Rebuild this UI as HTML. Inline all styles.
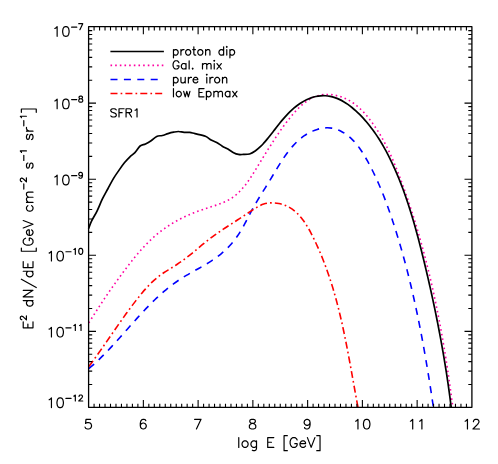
<!DOCTYPE html>
<html><head><meta charset="utf-8"><title>plot</title>
<style>html,body{margin:0;padding:0;background:#fff;font-family:"Liberation Sans",sans-serif}svg{display:block}</style>
</head><body>
<svg width="498" height="464" viewBox="0 0 498 464">
<rect width="498" height="464" fill="#fff"/>
<g fill="none" stroke-linejoin="round">
<path d="M88.85 322.8C89.3 322.08 90.65 319.92 91.55 318.49C92.45 317.07 93.35 315.65 94.25 314.23C95.16 312.82 96.06 311.41 96.97 310.01C97.87 308.61 98.78 307.22 99.69 305.83C100.6 304.44 101.51 303.06 102.43 301.68C103.35 300.3 104.27 298.93 105.19 297.56C106.12 296.2 107.04 294.83 107.97 293.47C108.91 292.11 109.84 290.76 110.79 289.4C111.73 288.05 112.67 286.7 113.63 285.35C114.58 284.01 115.54 282.66 116.5 281.32C117.47 279.98 118.44 278.64 119.42 277.3C120.4 275.96 121.39 274.62 122.38 273.28C123.38 271.94 124.38 270.61 125.39 269.27C126.4 267.93 127.42 266.59 128.45 265.26C129.47 263.93 130.51 262.6 131.56 261.28C132.61 259.95 133.67 258.64 134.74 257.33C135.82 256.02 136.9 254.72 138 253.44C139.09 252.16 140.2 250.88 141.33 249.62C142.45 248.37 143.59 247.13 144.74 245.9C145.9 244.68 147.07 243.47 148.25 242.29C149.44 241.11 150.64 239.95 151.86 238.81C153.08 237.67 154.32 236.56 155.57 235.48C156.83 234.39 158.1 233.33 159.4 232.31C160.69 231.28 162.01 230.28 163.34 229.31C164.67 228.35 166.02 227.41 167.39 226.5C168.76 225.58 170.15 224.7 171.55 223.84C172.96 222.99 174.38 222.16 175.82 221.35C177.25 220.55 178.71 219.77 180.17 219.01C181.64 218.26 183.12 217.53 184.62 216.82C186.12 216.11 187.63 215.43 189.15 214.77C190.68 214.1 192.21 213.46 193.76 212.84C195.31 212.22 196.87 211.63 198.45 211.05C200.02 210.47 201.61 209.91 203.2 209.37C204.79 208.83 206.41 208.31 208.01 207.8C209.62 207.28 211.24 206.79 212.84 206.27C214.44 205.75 216.04 205.23 217.61 204.68C219.19 204.12 220.75 203.56 222.27 202.93C223.8 202.31 225.3 201.66 226.75 200.93C228.2 200.21 229.62 199.44 230.98 198.58C232.35 197.73 233.65 196.8 234.92 195.8C236.18 194.8 237.39 193.73 238.56 192.61C239.74 191.49 240.86 190.3 241.96 189.08C243.05 187.85 244.11 186.57 245.14 185.25C246.17 183.94 247.16 182.59 248.14 181.21C249.11 179.84 250.06 178.42 250.99 177.01C251.93 175.59 252.84 174.14 253.74 172.7C254.65 171.25 255.53 169.8 256.42 168.35C257.31 166.9 258.18 165.46 259.06 164.02C259.94 162.58 260.81 161.15 261.68 159.73C262.56 158.31 263.43 156.89 264.3 155.48C265.17 154.07 266.05 152.66 266.92 151.26C267.8 149.86 268.67 148.46 269.55 147.07C270.43 145.68 271.32 144.29 272.21 142.91C273.1 141.53 273.99 140.15 274.89 138.77C275.8 137.4 276.7 136.02 277.63 134.66C278.55 133.29 279.49 131.93 280.44 130.57C281.39 129.21 282.35 127.86 283.33 126.51C284.32 125.16 285.32 123.81 286.34 122.47C287.36 121.13 288.41 119.8 289.48 118.47C290.55 117.14 291.64 115.81 292.76 114.5C293.88 113.19 295.03 111.88 296.2 110.62C297.38 109.37 298.58 108.12 299.82 106.94C301.05 105.77 302.32 104.62 303.61 103.56C304.91 102.5 306.23 101.49 307.59 100.58C308.95 99.67 310.34 98.82 311.76 98.09C313.19 97.37 314.65 96.73 316.14 96.21C317.63 95.7 319.17 95.3 320.72 95.01C322.27 94.72 323.85 94.54 325.43 94.47C327.02 94.39 328.63 94.42 330.23 94.54C331.83 94.67 333.45 94.9 335.04 95.21C336.64 95.52 338.24 95.93 339.81 96.43C341.38 96.92 342.94 97.5 344.46 98.16C345.98 98.82 347.49 99.56 348.94 100.37C350.4 101.18 351.81 102.08 353.19 103.03C354.56 103.98 355.88 105.01 357.17 106.08C358.46 107.15 359.71 108.29 360.92 109.46C362.14 110.63 363.31 111.86 364.45 113.11C365.6 114.36 366.7 115.66 367.78 116.97C368.86 118.28 369.91 119.63 370.93 120.98C371.94 122.33 372.93 123.7 373.9 125.07C374.87 126.45 375.81 127.85 376.72 129.25C377.64 130.65 378.53 132.07 379.39 133.49C380.26 134.92 381.11 136.36 381.93 137.81C382.76 139.25 383.56 140.71 384.35 142.18C385.13 143.64 385.9 145.12 386.64 146.61C387.39 148.09 388.12 149.58 388.84 151.08C389.55 152.58 390.25 154.09 390.94 155.6C391.62 157.12 392.29 158.64 392.95 160.17C393.61 161.69 394.25 163.23 394.89 164.76C395.52 166.3 396.14 167.84 396.76 169.39C397.38 170.93 397.98 172.48 398.58 174.04C399.18 175.59 399.77 177.14 400.36 178.7C400.94 180.26 401.52 181.82 402.1 183.38C402.67 184.95 403.24 186.51 403.8 188.08C404.37 189.64 404.92 191.21 405.48 192.78C406.03 194.35 406.58 195.93 407.12 197.5C407.66 199.07 408.2 200.65 408.73 202.23C409.26 203.81 409.79 205.39 410.31 206.97C410.83 208.55 411.34 210.13 411.85 211.72C412.37 213.31 412.87 214.89 413.37 216.48C413.87 218.07 414.37 219.66 414.86 221.25C415.35 222.85 415.83 224.44 416.31 226.04C416.79 227.63 417.27 229.23 417.74 230.83C418.21 232.43 418.68 234.03 419.14 235.63C419.6 237.23 420.06 238.84 420.51 240.44C420.96 242.05 421.4 243.65 421.85 245.26C422.29 246.87 422.73 248.48 423.16 250.09C423.59 251.7 424.02 253.31 424.44 254.93C424.87 256.54 425.29 258.16 425.7 259.77C426.12 261.39 426.53 263.01 426.93 264.62C427.34 266.24 427.74 267.86 428.14 269.48C428.54 271.11 428.93 272.73 429.32 274.35C429.71 275.97 430.09 277.6 430.47 279.22C430.85 280.85 431.23 282.48 431.6 284.1C431.97 285.73 432.34 287.36 432.7 288.99C433.07 290.62 433.43 292.25 433.78 293.88C434.14 295.51 434.49 297.15 434.84 298.78C435.18 300.41 435.53 302.05 435.87 303.68C436.21 305.32 436.54 306.95 436.88 308.59C437.21 310.23 437.54 311.86 437.86 313.5C438.19 315.14 438.51 316.78 438.83 318.42C439.14 320.06 439.46 321.7 439.77 323.34C440.08 324.98 440.38 326.62 440.69 328.26C440.99 329.91 441.29 331.55 441.59 333.19C441.88 334.83 442.17 336.48 442.46 338.12C442.75 339.77 443.04 341.41 443.32 343.05C443.6 344.7 443.88 346.34 444.16 347.99C444.44 349.64 444.71 351.28 444.98 352.93C445.25 354.57 445.51 356.22 445.78 357.87C446.04 359.51 446.3 361.16 446.56 362.81C446.81 364.46 447.07 366.1 447.32 367.75C447.57 369.4 447.82 371.05 448.06 372.7C448.31 374.34 448.55 375.99 448.79 377.64C449.03 379.29 449.26 380.94 449.5 382.58C449.73 384.23 449.96 385.88 450.19 387.53C450.42 389.18 450.64 390.82 450.87 392.47C451.09 394.12 451.31 395.77 451.53 397.42C451.74 399.06 451.96 400.71 452.17 402.36C452.38 404.01 452.7 406.48 452.8 407.3" stroke="#ff00a2" stroke-width="1.6" stroke-dasharray="1.6 3.06"/>
<path d="M88.85 368.7C89.48 368.16 91.37 366.54 92.61 365.44C93.85 364.34 95.08 363.22 96.3 362.08C97.52 360.95 98.72 359.8 99.92 358.64C101.11 357.48 102.3 356.31 103.47 355.12C104.65 353.94 105.82 352.74 106.98 351.54C108.14 350.33 109.29 349.12 110.43 347.9C111.58 346.68 112.72 345.44 113.85 344.21C114.99 342.97 116.12 341.73 117.24 340.48C118.37 339.23 119.49 337.98 120.61 336.73C121.73 335.47 122.85 334.21 123.97 332.95C125.09 331.69 126.2 330.43 127.32 329.17C128.43 327.91 129.55 326.65 130.67 325.39C131.79 324.13 132.9 322.88 134.03 321.62C135.15 320.37 136.27 319.12 137.4 317.87C138.53 316.63 139.66 315.39 140.8 314.15C141.94 312.92 143.09 311.69 144.24 310.47C145.39 309.26 146.55 308.04 147.71 306.84C148.88 305.64 150.05 304.45 151.23 303.27C152.42 302.1 153.61 300.93 154.81 299.77C156.02 298.62 157.23 297.48 158.46 296.35C159.68 295.22 160.92 294.11 162.17 293.01C163.42 291.92 164.68 290.84 165.96 289.78C167.24 288.72 168.53 287.67 169.84 286.65C171.15 285.62 172.48 284.62 173.82 283.64C175.16 282.65 176.52 281.69 177.9 280.75C179.28 279.81 180.67 278.89 182.09 278C183.5 277.11 184.94 276.24 186.39 275.39C187.83 274.53 189.3 273.7 190.76 272.87C192.23 272.04 193.71 271.23 195.18 270.41C196.66 269.59 198.14 268.77 199.61 267.95C201.08 267.12 202.55 266.3 204 265.46C205.45 264.61 206.9 263.76 208.33 262.88C209.75 262 211.17 261.11 212.55 260.18C213.94 259.25 215.3 258.29 216.64 257.31C217.98 256.32 219.29 255.3 220.57 254.26C221.86 253.21 223.11 252.13 224.34 251.02C225.56 249.91 226.76 248.76 227.92 247.59C229.08 246.41 230.21 245.2 231.31 243.95C232.4 242.71 233.46 241.43 234.48 240.12C235.51 238.8 236.49 237.45 237.44 236.07C238.39 234.69 239.3 233.27 240.19 231.83C241.07 230.39 241.93 228.92 242.77 227.45C243.6 225.97 244.42 224.47 245.22 222.97C246.03 221.47 246.82 219.95 247.6 218.44C248.39 216.94 249.17 215.42 249.95 213.93C250.74 212.43 251.52 210.93 252.32 209.46C253.12 207.99 253.92 206.54 254.74 205.11C255.56 203.67 256.39 202.25 257.23 200.84C258.07 199.44 258.92 198.04 259.77 196.65C260.62 195.26 261.48 193.87 262.35 192.48C263.21 191.1 264.08 189.71 264.95 188.32C265.82 186.92 266.7 185.52 267.57 184.11C268.44 182.7 269.32 181.27 270.19 179.83C271.06 178.39 271.93 176.93 272.8 175.47C273.67 174.01 274.55 172.53 275.43 171.06C276.32 169.59 277.2 168.11 278.11 166.64C279.01 165.18 279.92 163.71 280.85 162.26C281.78 160.81 282.72 159.37 283.68 157.95C284.64 156.53 285.62 155.13 286.63 153.75C287.64 152.38 288.66 151.03 289.72 149.72C290.78 148.41 291.86 147.12 292.97 145.88C294.09 144.64 295.23 143.44 296.42 142.28C297.6 141.13 298.82 140.02 300.08 138.97C301.33 137.92 302.63 136.91 303.97 135.97C305.31 135.04 306.7 134.15 308.13 133.35C309.56 132.54 311.05 131.78 312.57 131.13C314.09 130.47 315.66 129.88 317.24 129.4C318.81 128.92 320.43 128.52 322.04 128.25C323.65 127.98 325.29 127.81 326.91 127.79C328.52 127.76 330.15 127.86 331.74 128.11C333.33 128.35 334.91 128.76 336.45 129.27C337.99 129.79 339.51 130.45 340.97 131.19C342.43 131.93 343.86 132.8 345.23 133.72C346.59 134.64 347.9 135.65 349.16 136.71C350.42 137.78 351.63 138.92 352.79 140.1C353.96 141.29 355.07 142.54 356.15 143.83C357.23 145.12 358.26 146.46 359.26 147.83C360.26 149.2 361.22 150.62 362.16 152.06C363.1 153.49 364 154.96 364.87 156.44C365.75 157.92 366.6 159.42 367.44 160.93C368.27 162.43 369.08 163.94 369.88 165.46C370.67 166.97 371.45 168.49 372.21 170.01C372.97 171.53 373.72 173.05 374.45 174.57C375.18 176.1 375.89 177.62 376.59 179.16C377.29 180.69 377.97 182.22 378.65 183.75C379.32 185.29 379.98 186.83 380.62 188.37C381.27 189.91 381.9 191.46 382.52 193C383.15 194.55 383.76 196.1 384.36 197.65C384.96 199.2 385.55 200.76 386.13 202.32C386.71 203.87 387.28 205.43 387.85 207C388.41 208.56 388.96 210.12 389.51 211.69C390.06 213.26 390.6 214.83 391.13 216.4C391.67 217.98 392.2 219.55 392.72 221.13C393.24 222.71 393.76 224.29 394.27 225.88C394.78 227.46 395.29 229.05 395.79 230.63C396.29 232.22 396.78 233.81 397.27 235.41C397.76 237 398.25 238.6 398.73 240.19C399.21 241.79 399.68 243.39 400.15 244.99C400.62 246.6 401.08 248.2 401.54 249.81C402 251.41 402.45 253.02 402.9 254.63C403.35 256.24 403.79 257.85 404.23 259.47C404.67 261.08 405.1 262.7 405.53 264.31C405.96 265.93 406.39 267.55 406.81 269.17C407.23 270.79 407.64 272.41 408.05 274.04C408.46 275.66 408.87 277.29 409.27 278.92C409.67 280.54 410.07 282.17 410.46 283.8C410.85 285.43 411.24 287.06 411.63 288.7C412.01 290.33 412.39 291.96 412.77 293.6C413.14 295.24 413.51 296.87 413.88 298.51C414.25 300.15 414.61 301.79 414.97 303.43C415.33 305.07 415.69 306.71 416.04 308.35C416.39 309.99 416.74 311.63 417.09 313.28C417.43 314.92 417.77 316.57 418.11 318.21C418.45 319.86 418.78 321.5 419.11 323.15C419.44 324.8 419.77 326.45 420.09 328.09C420.41 329.74 420.73 331.39 421.05 333.04C421.37 334.69 421.68 336.34 421.99 337.99C422.3 339.64 422.61 341.29 422.91 342.94C423.21 344.59 423.51 346.24 423.81 347.89C424.11 349.55 424.4 351.2 424.69 352.85C424.99 354.5 425.27 356.15 425.56 357.81C425.85 359.46 426.13 361.11 426.41 362.76C426.69 364.41 426.97 366.07 427.24 367.72C427.52 369.37 427.79 371.02 428.06 372.67C428.33 374.33 428.6 375.98 428.86 377.63C429.13 379.28 429.39 380.93 429.65 382.58C429.91 384.23 430.17 385.88 430.43 387.53C430.68 389.18 430.94 390.83 431.19 392.48C431.44 394.13 431.69 395.78 431.94 397.42C432.18 399.07 432.43 400.72 432.67 402.36C432.92 404.01 433.28 406.48 433.4 407.3" stroke="#0000ff" stroke-width="1.6" stroke-dasharray="7 6.25"/>
<path d="M88.85 366.5C89.35 365.83 90.87 363.8 91.87 362.45C92.87 361.09 93.87 359.73 94.85 358.37C95.84 357.01 96.82 355.64 97.79 354.28C98.77 352.91 99.74 351.54 100.71 350.16C101.67 348.79 102.63 347.41 103.59 346.04C104.55 344.66 105.51 343.28 106.46 341.9C107.42 340.52 108.37 339.14 109.32 337.76C110.28 336.38 111.23 335 112.18 333.62C113.13 332.23 114.09 330.85 115.04 329.47C116 328.1 116.95 326.72 117.91 325.34C118.87 323.96 119.83 322.59 120.8 321.21C121.76 319.84 122.73 318.47 123.71 317.1C124.68 315.74 125.66 314.37 126.65 313.01C127.64 311.65 128.63 310.29 129.63 308.94C130.63 307.58 131.63 306.23 132.65 304.89C133.66 303.55 134.68 302.2 135.72 300.87C136.75 299.54 137.79 298.21 138.85 296.89C139.9 295.57 140.97 294.25 142.05 292.96C143.14 291.67 144.23 290.38 145.35 289.13C146.47 287.87 147.61 286.63 148.77 285.42C149.94 284.21 151.12 283.02 152.34 281.88C153.55 280.73 154.79 279.6 156.06 278.53C157.34 277.45 158.64 276.41 159.98 275.41C161.32 274.41 162.7 273.46 164.09 272.53C165.48 271.6 166.91 270.72 168.33 269.83C169.76 268.93 171.2 268.07 172.63 267.18C174.06 266.29 175.5 265.42 176.91 264.5C178.32 263.58 179.72 262.64 181.09 261.67C182.47 260.71 183.82 259.71 185.16 258.7C186.5 257.68 187.83 256.65 189.15 255.6C190.46 254.55 191.77 253.49 193.07 252.42C194.37 251.35 195.66 250.27 196.96 249.2C198.25 248.12 199.54 247.04 200.84 245.96C202.14 244.89 203.43 243.82 204.74 242.76C206.04 241.7 207.35 240.65 208.67 239.62C210 238.59 211.33 237.58 212.68 236.58C214.03 235.58 215.39 234.61 216.76 233.65C218.12 232.68 219.5 231.73 220.89 230.79C222.28 229.85 223.67 228.93 225.07 228.01C226.47 227.08 227.88 226.17 229.29 225.26C230.69 224.34 232.11 223.44 233.52 222.52C234.93 221.61 236.35 220.71 237.77 219.79C239.18 218.87 240.59 217.96 242 217.03C243.41 216.1 244.82 215.16 246.23 214.23C247.64 213.29 249.05 212.35 250.46 211.41C251.88 210.48 253.29 209.51 254.73 208.62C256.16 207.72 257.6 206.8 259.1 206.04C260.6 205.29 262.13 204.59 263.72 204.1C265.31 203.6 266.98 203.25 268.65 203.05C270.32 202.84 272.04 202.79 273.73 202.86C275.42 202.93 277.14 203.14 278.79 203.46C280.44 203.78 282.09 204.22 283.64 204.76C285.2 205.3 286.71 205.96 288.14 206.7C289.58 207.44 290.94 208.29 292.25 209.21C293.56 210.12 294.8 211.14 296 212.21C297.19 213.28 298.33 214.44 299.42 215.65C300.52 216.85 301.56 218.13 302.56 219.45C303.57 220.77 304.53 222.15 305.46 223.55C306.38 224.96 307.27 226.42 308.13 227.89C309 229.37 309.83 230.88 310.64 232.4C311.44 233.92 312.23 235.47 312.99 237.02C313.76 238.56 314.51 240.12 315.24 241.67C315.98 243.23 316.7 244.78 317.4 246.34C318.1 247.9 318.79 249.47 319.47 251.03C320.14 252.6 320.8 254.17 321.45 255.74C322.09 257.31 322.72 258.89 323.34 260.46C323.96 262.04 324.57 263.62 325.16 265.2C325.75 266.78 326.33 268.37 326.9 269.95C327.47 271.54 328.02 273.13 328.57 274.72C329.11 276.31 329.64 277.9 330.16 279.5C330.68 281.1 331.19 282.69 331.69 284.3C332.19 285.9 332.68 287.5 333.16 289.1C333.64 290.71 334.11 292.32 334.57 293.92C335.03 295.53 335.48 297.14 335.92 298.76C336.36 300.37 336.79 301.99 337.22 303.6C337.64 305.22 338.05 306.84 338.46 308.46C338.87 310.08 339.27 311.7 339.66 313.33C340.06 314.95 340.44 316.58 340.82 318.2C341.2 319.83 341.57 321.46 341.94 323.09C342.3 324.72 342.66 326.36 343.02 327.99C343.37 329.62 343.72 331.26 344.06 332.9C344.41 334.53 344.74 336.17 345.08 337.81C345.41 339.45 345.74 341.09 346.07 342.74C346.39 344.38 346.72 346.02 347.03 347.67C347.35 349.31 347.67 350.96 347.98 352.61C348.29 354.25 348.6 355.9 348.91 357.55C349.22 359.2 349.52 360.85 349.83 362.51C350.13 364.16 350.43 365.81 350.73 367.46C351.03 369.12 351.33 370.77 351.63 372.43C351.93 374.08 352.23 375.74 352.52 377.4C352.82 379.06 353.12 380.71 353.42 382.37C353.72 384.03 354.01 385.69 354.32 387.35C354.62 389.01 354.92 390.67 355.22 392.33C355.52 394 355.83 395.66 356.13 397.32C356.44 398.98 356.75 400.65 357.06 402.31C357.37 403.97 357.84 406.47 358 407.3" stroke="#ff0000" stroke-width="1.6" stroke-dasharray="7 3.1 1.7 3.1"/>
<path d="M88.6 228.6C89.07 227.39 90.02 224.25 91.4 221.37C92.78 218.48 95.07 215.03 96.9 211.3C98.73 207.57 100.57 202.73 102.4 198.97C104.23 195.21 106.07 192.12 107.9 188.73C109.73 185.34 111.57 181.69 113.4 178.63C115.23 175.57 117.07 173 118.9 170.37C120.73 167.73 122.57 165.09 124.4 162.83C126.23 160.58 128.15 158.54 129.9 156.83C131.65 155.13 133.2 154.41 134.9 152.6C136.6 150.79 138.33 147.45 140.1 146C141.87 144.55 143.67 144.78 145.5 143.9C147.33 143.02 149.23 141.95 151.1 140.7C152.97 139.45 154.83 137.27 156.7 136.4C158.57 135.53 160.42 135.97 162.3 135.5C164.18 135.03 166.12 134.15 168 133.6C169.88 133.05 171.85 132.55 173.6 132.2C175.35 131.85 176.75 131.47 178.5 131.5C180.25 131.53 182.23 132.25 184.1 132.4C185.97 132.55 187.88 132.18 189.7 132.4C191.52 132.62 192.38 133.06 195 133.7C197.62 134.34 202.72 135.17 205.4 136.22C208.08 137.27 209.22 138.97 211.1 140.01C212.98 141.05 214.83 141.4 216.7 142.44C218.57 143.48 220.43 145.12 222.3 146.23C224.17 147.34 226.02 148 227.9 149.08C229.78 150.16 231.85 151.8 233.6 152.69C235.35 153.58 236.8 154.11 238.4 154.41C240 154.71 241.33 154.54 243.2 154.47C245.07 154.4 247.6 154.58 249.6 154.01C251.6 153.44 253.32 152.33 255.2 151.03C257.08 149.73 259.4 147.63 260.9 146.23C262.4 144.83 263.12 143.88 264.2 142.66C265.28 141.44 266.34 140.18 267.39 138.9C268.44 137.63 269.48 136.33 270.51 135.02C271.55 133.71 272.57 132.38 273.6 131.05C274.64 129.72 275.66 128.38 276.71 127.05C277.75 125.72 278.8 124.38 279.86 123.06C280.93 121.74 282.01 120.43 283.12 119.14C284.22 117.84 285.34 116.56 286.5 115.32C287.66 114.07 288.84 112.85 290.06 111.66C291.28 110.48 292.54 109.32 293.83 108.21C295.13 107.11 296.48 106.03 297.85 105.03C299.23 104.02 300.65 103.06 302.09 102.18C303.54 101.3 305.02 100.48 306.52 99.75C308.03 99.03 309.56 98.38 311.11 97.83C312.67 97.29 314.25 96.84 315.84 96.5C317.42 96.16 319.04 95.93 320.64 95.8C322.24 95.68 323.85 95.66 325.44 95.75C327.03 95.84 328.62 96.04 330.18 96.35C331.74 96.66 333.28 97.08 334.8 97.58C336.32 98.09 337.82 98.7 339.29 99.38C340.77 100.06 342.23 100.84 343.66 101.67C345.09 102.51 346.49 103.43 347.88 104.39C349.26 105.36 350.62 106.4 351.95 107.47C353.28 108.55 354.59 109.68 355.86 110.84C357.14 112 358.39 113.21 359.61 114.44C360.83 115.66 362.02 116.92 363.18 118.19C364.34 119.46 365.47 120.74 366.58 122.04C367.68 123.34 368.75 124.65 369.8 125.98C370.85 127.31 371.87 128.66 372.86 130.01C373.86 131.37 374.83 132.74 375.78 134.12C376.72 135.5 377.65 136.89 378.55 138.3C379.45 139.7 380.33 141.12 381.19 142.54C382.05 143.97 382.89 145.41 383.71 146.85C384.53 148.3 385.33 149.75 386.12 151.21C386.91 152.68 387.67 154.15 388.43 155.63C389.18 157.11 389.92 158.59 390.64 160.08C391.37 161.58 392.08 163.08 392.78 164.58C393.48 166.08 394.16 167.59 394.84 169.11C395.51 170.63 396.17 172.15 396.82 173.67C397.47 175.2 398.11 176.73 398.74 178.27C399.37 179.81 399.98 181.35 400.59 182.89C401.19 184.44 401.79 185.99 402.37 187.55C402.96 189.1 403.53 190.66 404.1 192.23C404.66 193.79 405.22 195.36 405.77 196.93C406.31 198.5 406.85 200.08 407.38 201.66C407.91 203.24 408.43 204.82 408.94 206.41C409.45 207.99 409.96 209.58 410.45 211.18C410.95 212.77 411.44 214.36 411.92 215.96C412.4 217.56 412.88 219.16 413.35 220.77C413.82 222.37 414.28 223.98 414.73 225.58C415.19 227.19 415.64 228.8 416.09 230.41C416.53 232.03 416.97 233.64 417.4 235.26C417.84 236.87 418.27 238.49 418.69 240.11C419.12 241.73 419.53 243.35 419.95 244.97C420.37 246.59 420.78 248.21 421.19 249.83C421.6 251.46 422 253.08 422.4 254.7C422.81 256.33 423.21 257.95 423.6 259.58C424 261.2 424.39 262.83 424.79 264.45C425.18 266.08 425.57 267.7 425.95 269.33C426.34 270.96 426.72 272.58 427.1 274.21C427.48 275.84 427.86 277.46 428.24 279.09C428.61 280.72 428.98 282.35 429.35 283.98C429.72 285.6 430.09 287.23 430.45 288.86C430.82 290.49 431.18 292.12 431.54 293.75C431.9 295.38 432.25 297.01 432.6 298.64C432.96 300.28 433.31 301.91 433.65 303.54C434 305.17 434.34 306.81 434.68 308.44C435.02 310.07 435.36 311.71 435.7 313.34C436.03 314.97 436.36 316.61 436.69 318.25C437.02 319.88 437.35 321.52 437.67 323.15C437.99 324.79 438.31 326.43 438.62 328.07C438.94 329.71 439.25 331.34 439.56 332.98C439.87 334.62 440.18 336.26 440.48 337.9C440.79 339.54 441.09 341.19 441.38 342.83C441.68 344.47 441.97 346.11 442.26 347.76C442.55 349.4 442.84 351.05 443.12 352.69C443.41 354.34 443.69 355.98 443.96 357.63C444.24 359.28 444.51 360.92 444.78 362.57C445.05 364.22 445.32 365.87 445.58 367.52C445.84 369.17 446.1 370.82 446.36 372.47C446.61 374.13 446.87 375.78 447.11 377.43C447.36 379.09 447.61 380.74 447.85 382.4C448.09 384.05 448.33 385.71 448.56 387.36C448.8 389.02 449.03 390.68 449.26 392.34C449.48 394 449.71 395.66 449.93 397.32C450.15 398.98 450.36 400.64 450.57 402.31C450.79 403.97 451.1 406.47 451.2 407.3" stroke="#000" stroke-width="1.7"/>
<path d="M110.4 51.5H163.9" stroke="#000" stroke-width="1.6"/>
<path d="M110.5 65.4H163.9" stroke="#ff00a2" stroke-width="1.6" stroke-dasharray="1.6 3.06"/>
<path d="M110.5 79.5H163.9" stroke="#0000ff" stroke-width="1.6" stroke-dasharray="7 6.4"/>
<path d="M110.5 93.5H163.9" stroke="#ff0000" stroke-width="1.6" stroke-dasharray="7 3.1 1.7 3.1"/>
<path d="M94.08 407.35v-3.6M94.08 26.7v3.8M99.55 407.35v-3.6M99.55 26.7v3.8M105.03 407.35v-3.6M105.03 26.7v3.8M110.5 407.35v-3.6M110.5 26.7v3.8M115.98 407.35v-3.6M115.98 26.7v3.8M121.45 407.35v-3.6M121.45 26.7v3.8M126.93 407.35v-3.6M126.93 26.7v3.8M132.41 407.35v-3.6M132.41 26.7v3.8M137.88 407.35v-3.6M137.88 26.7v3.8M143.36 407.35v-7.4M143.36 26.7v7.6M148.83 407.35v-3.6M148.83 26.7v3.8M154.31 407.35v-3.6M154.31 26.7v3.8M159.78 407.35v-3.6M159.78 26.7v3.8M165.26 407.35v-3.6M165.26 26.7v3.8M170.74 407.35v-3.6M170.74 26.7v3.8M176.21 407.35v-3.6M176.21 26.7v3.8M181.69 407.35v-3.6M181.69 26.7v3.8M187.16 407.35v-3.6M187.16 26.7v3.8M192.64 407.35v-3.6M192.64 26.7v3.8M198.11 407.35v-7.4M198.11 26.7v7.6M203.59 407.35v-3.6M203.59 26.7v3.8M209.07 407.35v-3.6M209.07 26.7v3.8M214.54 407.35v-3.6M214.54 26.7v3.8M220.02 407.35v-3.6M220.02 26.7v3.8M225.49 407.35v-3.6M225.49 26.7v3.8M230.97 407.35v-3.6M230.97 26.7v3.8M236.44 407.35v-3.6M236.44 26.7v3.8M241.92 407.35v-3.6M241.92 26.7v3.8M247.4 407.35v-3.6M247.4 26.7v3.8M252.87 407.35v-7.4M252.87 26.7v7.6M258.35 407.35v-3.6M258.35 26.7v3.8M263.82 407.35v-3.6M263.82 26.7v3.8M269.3 407.35v-3.6M269.3 26.7v3.8M274.77 407.35v-3.6M274.77 26.7v3.8M280.25 407.35v-3.6M280.25 26.7v3.8M285.73 407.35v-3.6M285.73 26.7v3.8M291.2 407.35v-3.6M291.2 26.7v3.8M296.68 407.35v-3.6M296.68 26.7v3.8M302.15 407.35v-3.6M302.15 26.7v3.8M307.63 407.35v-7.4M307.63 26.7v7.6M313.1 407.35v-3.6M313.1 26.7v3.8M318.58 407.35v-3.6M318.58 26.7v3.8M324.06 407.35v-3.6M324.06 26.7v3.8M329.53 407.35v-3.6M329.53 26.7v3.8M335.01 407.35v-3.6M335.01 26.7v3.8M340.48 407.35v-3.6M340.48 26.7v3.8M345.96 407.35v-3.6M345.96 26.7v3.8M351.43 407.35v-3.6M351.43 26.7v3.8M356.91 407.35v-3.6M356.91 26.7v3.8M362.39 407.35v-7.4M362.39 26.7v7.6M367.86 407.35v-3.6M367.86 26.7v3.8M373.34 407.35v-3.6M373.34 26.7v3.8M378.81 407.35v-3.6M378.81 26.7v3.8M384.29 407.35v-3.6M384.29 26.7v3.8M389.76 407.35v-3.6M389.76 26.7v3.8M395.24 407.35v-3.6M395.24 26.7v3.8M400.72 407.35v-3.6M400.72 26.7v3.8M406.19 407.35v-3.6M406.19 26.7v3.8M411.67 407.35v-3.6M411.67 26.7v3.8M417.14 407.35v-7.4M417.14 26.7v7.6M422.62 407.35v-3.6M422.62 26.7v3.8M428.09 407.35v-3.6M428.09 26.7v3.8M433.57 407.35v-3.6M433.57 26.7v3.8M439.05 407.35v-3.6M439.05 26.7v3.8M444.52 407.35v-3.6M444.52 26.7v3.8M450 407.35v-3.6M450 26.7v3.8M455.47 407.35v-3.6M455.47 26.7v3.8M460.95 407.35v-3.6M460.95 26.7v3.8M466.42 407.35v-3.6M466.42 26.7v3.8M88.6 384.55h3.6M471.9 384.55h-3.6M88.6 371.16h3.6M471.9 371.16h-3.6M88.6 361.65h3.6M471.9 361.65h-3.6M88.6 354.28h3.6M471.9 354.28h-3.6M88.6 348.26h3.6M471.9 348.26h-3.6M88.6 343.16h3.6M471.9 343.16h-3.6M88.6 338.75h3.6M471.9 338.75h-3.6M88.6 334.86h3.6M471.9 334.86h-3.6M88.6 331.38h7.4M471.9 331.38h-7.4M88.6 308.48h3.6M471.9 308.48h-3.6M88.6 295.09h3.6M471.9 295.09h-3.6M88.6 285.58h3.6M471.9 285.58h-3.6M88.6 278.21h3.6M471.9 278.21h-3.6M88.6 272.19h3.6M471.9 272.19h-3.6M88.6 267.09h3.6M471.9 267.09h-3.6M88.6 262.68h3.6M471.9 262.68h-3.6M88.6 258.79h3.6M471.9 258.79h-3.6M88.6 255.31h7.4M471.9 255.31h-7.4M88.6 232.41h3.6M471.9 232.41h-3.6M88.6 219.02h3.6M471.9 219.02h-3.6M88.6 209.51h3.6M471.9 209.51h-3.6M88.6 202.14h3.6M471.9 202.14h-3.6M88.6 196.12h3.6M471.9 196.12h-3.6M88.6 191.02h3.6M471.9 191.02h-3.6M88.6 186.61h3.6M471.9 186.61h-3.6M88.6 182.72h3.6M471.9 182.72h-3.6M88.6 179.24h7.4M471.9 179.24h-7.4M88.6 156.34h3.6M471.9 156.34h-3.6M88.6 142.95h3.6M471.9 142.95h-3.6M88.6 133.44h3.6M471.9 133.44h-3.6M88.6 126.07h3.6M471.9 126.07h-3.6M88.6 120.05h3.6M471.9 120.05h-3.6M88.6 114.95h3.6M471.9 114.95h-3.6M88.6 110.54h3.6M471.9 110.54h-3.6M88.6 106.65h3.6M471.9 106.65h-3.6M88.6 103.17h7.4M471.9 103.17h-7.4M88.6 80.27h3.6M471.9 80.27h-3.6M88.6 66.88h3.6M471.9 66.88h-3.6M88.6 57.37h3.6M471.9 57.37h-3.6M88.6 50h3.6M471.9 50h-3.6M88.6 43.98h3.6M471.9 43.98h-3.6M88.6 38.88h3.6M471.9 38.88h-3.6M88.6 34.47h3.6M471.9 34.47h-3.6M88.6 30.58h3.6M471.9 30.58h-3.6" stroke="#000" stroke-width="1.1"/>
<rect x="88.6" y="26.7" width="383.3" height="380.65" stroke="#000" stroke-width="1.3"/>
<path d="M90.6 419.34L86 419.34L85.54 423.48L86 423.02L87.38 422.56L88.76 422.56L90.14 423.02L91.06 423.94L91.52 425.32L91.52 426.24L91.06 427.62L90.14 428.54L88.76 429L87.38 429L86 428.54L85.54 428.08L85.08 427.16M140.3 425.78L140.76 427.62L141.68 428.54L143.06 429L143.52 429L144.9 428.54L145.82 427.62L146.28 426.24L146.28 425.78L145.82 424.4L144.9 423.48L143.52 423.02L143.06 423.02L141.68 423.48L140.76 424.4L140.3 425.78L140.3 423.48L140.76 421.18L141.68 419.8L143.06 419.34L143.98 419.34L145.36 419.8L145.82 420.72M196.43 429L201.03 419.34L194.59 419.34M249.35 425.78L249.81 424.86L250.73 423.94L252.11 423.48L253.95 423.02L254.87 422.56L255.33 421.64L255.33 420.72L254.87 419.8L253.49 419.34L251.65 419.34L250.27 419.8L249.81 420.72L249.81 421.64L250.27 422.56L251.19 423.02L253.03 423.48L254.41 423.94L255.33 424.86L255.79 425.78L255.79 427.16L255.33 428.08L254.87 428.54L253.49 429L251.65 429L250.27 428.54L249.81 428.08L249.35 427.16L249.35 425.78M310.09 422.56L309.63 423.94L308.71 424.86L307.33 425.32L306.87 425.32L305.49 424.86L304.57 423.94L304.11 422.56L304.11 422.1L304.57 420.72L305.49 419.8L306.87 419.34L307.33 419.34L308.71 419.8L309.63 420.72L310.09 422.56L310.09 424.86L309.63 427.16L308.71 428.54L307.33 429L306.41 429L305.03 428.54L304.57 427.62M357.95 429L357.95 419.34L356.57 420.72L355.65 421.18M363.47 423.48L363.93 421.18L364.85 419.8L366.23 419.34L367.15 419.34L368.53 419.8L369.45 421.18L369.91 423.48L369.91 424.86L369.45 427.16L368.53 428.54L367.15 429L366.23 429L364.85 428.54L363.93 427.16L363.47 424.86L363.47 423.48M412.7 429L412.7 419.34L411.32 420.72L410.4 421.18M421.9 429L421.9 419.34L420.52 420.72L419.6 421.18M467.46 429L467.46 419.34L466.08 420.72L465.16 421.18M473.44 421.64L473.44 421.18L473.9 420.26L474.36 419.8L475.28 419.34L477.12 419.34L478.04 419.8L478.5 420.26L478.96 421.18L478.96 422.1L478.5 423.02L477.58 424.4L472.98 429L479.42 429M51.44 407.6L51.44 397.94L50.06 399.32L49.14 399.78M56.96 402.08L57.42 399.78L58.34 398.4L59.72 397.94L60.64 397.94L62.02 398.4L62.94 399.78L63.4 402.08L63.4 403.46L62.94 405.76L62.02 407.14L60.64 407.6L59.72 407.6L58.34 407.14L57.42 405.76L56.96 403.46L56.96 402.08M65.92 398.43L71.05 398.43M75.33 401L75.33 395.01L74.47 395.87L73.9 396.15M79.04 396.44L79.04 396.15L79.32 395.58L79.61 395.3L80.18 395.01L81.32 395.01L81.89 395.3L82.17 395.58L82.46 396.15L82.46 396.72L82.17 397.29L81.6 398.15L78.75 401L82.74 401M51.44 336.98L51.44 327.32L50.06 328.7L49.14 329.16M56.96 331.46L57.42 329.16L58.34 327.78L59.72 327.32L60.64 327.32L62.02 327.78L62.94 329.16L63.4 331.46L63.4 332.84L62.94 335.14L62.02 336.52L60.64 336.98L59.72 336.98L58.34 336.52L57.42 335.14L56.96 332.84L56.96 331.46M65.92 327.81L71.05 327.81M75.33 330.38L75.33 324.39L74.47 325.25L73.9 325.53M81.03 330.38L81.03 324.39L80.18 325.25L79.61 325.53M51.44 260.91L51.44 251.25L50.06 252.63L49.14 253.09M56.96 255.39L57.42 253.09L58.34 251.71L59.72 251.25L60.64 251.25L62.02 251.71L62.94 253.09L63.4 255.39L63.4 256.77L62.94 259.07L62.02 260.45L60.64 260.91L59.72 260.91L58.34 260.45L57.42 259.07L56.96 256.77L56.96 255.39M65.92 251.74L71.05 251.74M75.33 254.31L75.33 248.32L74.47 249.18L73.9 249.46M78.75 250.89L79.04 249.46L79.61 248.61L80.46 248.32L81.03 248.32L81.89 248.61L82.46 249.46L82.74 250.89L82.74 251.74L82.46 253.17L81.89 254.02L81.03 254.31L80.46 254.31L79.61 254.02L79.04 253.17L78.75 251.74L78.75 250.89M57.14 184.84L57.14 175.18L55.76 176.56L54.84 177.02M62.66 179.32L63.12 177.02L64.04 175.64L65.42 175.18L66.34 175.18L67.72 175.64L68.64 177.02L69.1 179.32L69.1 180.7L68.64 183L67.72 184.38L66.34 184.84L65.42 184.84L64.04 184.38L63.12 183L62.66 180.7L62.66 179.32M71.62 175.67L76.76 175.67M82.46 174.25L82.17 175.1L81.6 175.67L80.75 175.96L80.46 175.96L79.61 175.67L79.04 175.1L78.75 174.25L78.75 173.96L79.04 173.11L79.61 172.54L80.46 172.25L80.75 172.25L81.6 172.54L82.17 173.11L82.46 174.25L82.46 175.67L82.17 177.1L81.6 177.95L80.75 178.24L80.18 178.24L79.32 177.95L79.04 177.38M57.14 108.77L57.14 99.11L55.76 100.49L54.84 100.95M62.66 103.25L63.12 100.95L64.04 99.57L65.42 99.11L66.34 99.11L67.72 99.57L68.64 100.95L69.1 103.25L69.1 104.63L68.64 106.93L67.72 108.31L66.34 108.77L65.42 108.77L64.04 108.31L63.12 106.93L62.66 104.63L62.66 103.25M71.62 99.6L76.76 99.6M78.75 100.17L79.04 99.6L79.61 99.03L80.46 98.75L81.6 98.46L82.17 98.18L82.46 97.61L82.46 97.04L82.17 96.47L81.32 96.18L80.18 96.18L79.32 96.47L79.04 97.04L79.04 97.61L79.32 98.18L79.89 98.46L81.03 98.75L81.89 99.03L82.46 99.6L82.74 100.17L82.74 101.03L82.46 101.6L82.17 101.88L81.32 102.17L80.18 102.17L79.32 101.88L79.04 101.6L78.75 101.03L78.75 100.17M57.14 36.3L57.14 26.64L55.76 28.02L54.84 28.48M62.66 30.78L63.12 28.48L64.04 27.1L65.42 26.64L66.34 26.64L67.72 27.1L68.64 28.48L69.1 30.78L69.1 32.16L68.64 34.46L67.72 35.84L66.34 36.3L65.42 36.3L64.04 35.84L63.12 34.46L62.66 32.16L62.66 30.78M71.62 27.13L76.76 27.13M79.89 29.7L82.74 23.71L78.75 23.71M238.77 437.59L238.77 447.4M242.04 443.66L242.51 442.26L243.44 441.33L244.37 440.86L245.78 440.86L246.71 441.33L247.64 442.26L248.11 443.66L248.11 444.6L247.64 446L246.71 446.93L245.78 447.4L244.37 447.4L243.44 446.93L242.51 446L242.04 444.6L242.04 443.66M256.52 440.86L256.52 448.33L256.05 449.73L255.58 450.2L254.65 450.67L253.25 450.67L252.31 450.2M256.52 446L255.58 446.93L254.65 447.4L253.25 447.4L252.31 446.93L251.38 446L250.91 444.6L250.91 443.66L251.38 442.26L252.31 441.33L253.25 440.86L254.65 440.86L255.58 441.33L256.52 442.26M273.8 447.4L267.72 447.4L267.72 437.59L273.8 437.59M267.72 442.26L271.46 442.26M287.34 450.67L284.07 450.67L284.07 435.72L287.34 435.72M297.15 439.93L296.68 438.99L295.75 438.06L294.81 437.59L292.94 437.59L292.01 438.06L291.07 438.99L290.61 439.93L290.14 441.33L290.14 443.66L290.61 445.06L291.07 446L292.01 446.93L292.94 447.4L294.81 447.4L295.75 446.93L296.68 446L297.15 445.06L297.15 443.66L294.81 443.66M299.95 443.66L305.55 443.66L305.55 442.73L305.08 441.8L304.62 441.33L303.68 440.86L302.28 440.86L301.35 441.33L300.41 442.26L299.95 443.66L299.95 444.6L300.41 446L301.35 446.93L302.28 447.4L303.68 447.4L304.62 446.93L305.55 446M314.89 437.59L311.16 447.4L307.42 437.59M316.76 450.67L320.03 450.67L320.03 435.72L316.76 435.72M33 321.73L33 327.78L23.22 327.78L23.22 321.73M27.88 327.78L27.88 324.06M21.78 319.65L21.49 319.65L20.92 319.36L20.63 319.07L20.34 318.49L20.34 317.34L20.63 316.76L20.92 316.47L21.49 316.18L22.07 316.18L22.65 316.47L23.51 317.05L26.4 319.93L26.4 315.89M31.6 300.6L32.53 301.53L33 302.46L33 303.86L32.53 304.79L31.6 305.72L30.21 306.18L29.28 306.18L27.88 305.72L26.95 304.79L26.48 303.86L26.48 302.46L26.95 301.53L27.88 300.6M23.22 300.6L33 300.6M23.22 290.36L33 290.36L23.22 296.87L33 296.87M36.26 287.56L21.36 279.18M31.6 271.27L32.53 272.2L33 273.13L33 274.53L32.53 275.46L31.6 276.39L30.21 276.86L29.28 276.86L27.88 276.39L26.95 275.46L26.48 274.53L26.48 273.13L26.95 272.2L27.88 271.27M23.22 271.27L33 271.27M33 261.5L33 267.55L23.22 267.55L23.22 261.5M27.88 267.55L27.88 263.82M36.26 248L36.26 251.25L21.36 251.25L21.36 248M25.55 238.22L24.62 238.69L23.69 239.62L23.22 240.55L23.22 242.41L23.69 243.34L24.62 244.27L25.55 244.74L26.95 245.2L29.28 245.2L30.67 244.74L31.6 244.27L32.53 243.34L33 242.41L33 240.55L32.53 239.62L31.6 238.69L30.67 238.22L29.28 238.22L29.28 240.55M29.28 235.43L29.28 229.84L28.34 229.84L27.41 230.31L26.95 230.77L26.48 231.7L26.48 233.1L26.95 234.03L27.88 234.96L29.28 235.43L30.21 235.43L31.6 234.96L32.53 234.03L33 233.1L33 231.7L32.53 230.77L31.6 229.84M23.22 220.53L33 224.26L23.22 227.98M31.6 205.64L32.53 206.57L33 207.5L33 208.89L32.53 209.83L31.6 210.76L30.21 211.22L29.28 211.22L27.88 210.76L26.95 209.83L26.48 208.89L26.48 207.5L26.95 206.57L27.88 205.64M26.48 202.38L33 202.38M33 197.26L28.34 197.26L26.95 197.72L26.48 198.65L26.48 200.05L26.95 200.98L28.34 202.38M28.34 197.26L26.95 195.86L26.48 194.93L26.48 193.53L26.95 192.6L28.34 192.14L33 192.14M23.8 189.12L23.8 183.93M21.78 181.62L21.49 181.62L20.92 181.33L20.63 181.04L20.34 180.46L20.34 179.31L20.63 178.73L20.92 178.44L21.49 178.15L22.07 178.15L22.65 178.44L23.51 179.02L26.4 181.9L26.4 177.86M27.88 163.03L26.95 163.5L26.48 164.9L26.48 166.29L26.95 167.69L27.88 168.15L28.81 167.69L29.28 166.76L29.74 164.43L30.21 163.5L31.14 163.03L31.6 163.03L32.53 163.5L33 164.9L33 166.29L32.53 167.69L31.6 168.15M23.8 160.48L23.8 155.29M26.4 150.96L20.34 150.96L21.21 151.82L21.49 152.4M27.88 134.4L26.95 134.86L26.48 136.26L26.48 137.65L26.95 139.05L27.88 139.52L28.81 139.05L29.28 138.12L29.74 135.79L30.21 134.86L31.14 134.4L31.6 134.4L32.53 134.86L33 136.26L33 137.65L32.53 139.05L31.6 139.52M26.48 131.14L33 131.14M26.48 127.41L26.48 128.81L26.95 129.74L27.88 130.67L29.28 131.14M23.8 125.79L23.8 120.6M26.4 116.27L20.34 116.27L21.21 117.14L21.49 117.71M36.26 112.28L36.26 109.02L21.36 109.02L21.36 112.28" stroke="#000" stroke-width="1.2" stroke-linecap="round"/>
<path d="M173.47 49.61L173.47 57.84M173.47 53.92L174.25 54.71L175.04 55.1L176.21 55.1L177 54.71L177.78 53.92L178.17 52.75L178.17 51.96L177.78 50.79L177 50L176.21 49.61L175.04 49.61L174.25 50L173.47 50.79M180.92 49.61L180.92 55.1M184.05 49.61L182.88 49.61L182.09 50L181.31 50.79L180.92 51.96M185.62 51.96L186.01 50.79L186.8 50L187.58 49.61L188.76 49.61L189.54 50L190.32 50.79L190.72 51.96L190.72 52.75L190.32 53.92L189.54 54.71L188.76 55.1L187.58 55.1L186.8 54.71L186.01 53.92L185.62 52.75L185.62 51.96M192.68 49.61L195.42 49.61M195.81 55.1L195.03 55.1L194.24 54.71L193.85 53.53L193.85 46.87M197.77 51.96L198.16 50.79L198.95 50L199.73 49.61L200.91 49.61L201.69 50L202.48 50.79L202.87 51.96L202.87 52.75L202.48 53.92L201.69 54.71L200.91 55.1L199.73 55.1L198.95 54.71L198.16 53.92L197.77 52.75L197.77 51.96M205.61 49.61L205.61 55.1M209.92 55.1L209.92 51.18L209.53 50L208.75 49.61L207.57 49.61L206.79 50L205.61 51.18M223.64 53.92L222.86 54.71L222.08 55.1L220.9 55.1L220.12 54.71L219.33 53.92L218.94 52.75L218.94 51.96L219.33 50.79L220.12 50L220.9 49.61L222.08 49.61L222.86 50L223.64 50.79M223.64 46.87L223.64 55.1M226.78 49.61L226.78 55.1M226.39 46.87L226.78 47.26L227.17 46.87L226.78 46.48L226.39 46.87M229.92 49.61L229.92 57.84M229.92 53.92L230.7 54.71L231.48 55.1L232.66 55.1L233.44 54.71L234.23 53.92L234.62 52.75L234.62 51.96L234.23 50.79L233.44 50L232.66 49.61L231.48 49.61L230.7 50L229.92 50.79M178.96 62.73L178.56 61.94L177.78 61.16L177 60.77L175.43 60.77L174.64 61.16L173.86 61.94L173.47 62.73L173.08 63.9L173.08 65.86L173.47 67.04L173.86 67.82L174.64 68.61L175.43 69L177 69L177.78 68.61L178.56 67.82L178.96 67.04L178.96 65.86L177 65.86M186.01 67.82L185.23 68.61L184.44 69L183.27 69L182.48 68.61L181.7 67.82L181.31 66.65L181.31 65.86L181.7 64.69L182.48 63.9L183.27 63.51L184.44 63.51L185.23 63.9L186.01 64.69M186.01 63.51L186.01 69M189.15 60.77L189.15 69M192.28 68.61L192.68 69L193.07 68.61L192.68 68.22L192.28 68.61M202.48 63.51L202.48 69M206.79 69L206.79 65.08L206.4 63.9L205.61 63.51L204.44 63.51L203.65 63.9L202.48 65.08M206.79 65.08L207.96 63.9L208.75 63.51L209.92 63.51L210.71 63.9L211.1 65.08L211.1 69M214.24 63.51L214.24 69M213.84 60.77L214.24 61.16L214.63 60.77L214.24 60.38L213.84 60.77M216.98 63.51L221.29 69M216.98 69L221.29 63.51M173.47 77.41L173.47 85.64M173.47 81.72L174.25 82.51L175.04 82.9L176.21 82.9L177 82.51L177.78 81.72L178.17 80.55L178.17 79.76L177.78 78.59L177 77.8L176.21 77.41L175.04 77.41L174.25 77.8L173.47 78.59M185.23 81.33L184.05 82.51L183.27 82.9L182.09 82.9L181.31 82.51L180.92 81.33L180.92 77.41M185.23 77.41L185.23 82.9M188.36 77.41L188.36 82.9M191.5 77.41L190.32 77.41L189.54 77.8L188.76 78.59L188.36 79.76M193.07 79.76L197.77 79.76L197.77 78.98L197.38 78.2L196.99 77.8L196.2 77.41L195.03 77.41L194.24 77.8L193.46 78.59L193.07 79.76L193.07 80.55L193.46 81.72L194.24 82.51L195.03 82.9L196.2 82.9L196.99 82.51L197.77 81.72M206.79 77.41L206.79 82.9M206.4 74.67L206.79 75.06L207.18 74.67L206.79 74.28L206.4 74.67M209.92 77.41L209.92 82.9M213.06 77.41L211.88 77.41L211.1 77.8L210.32 78.59L209.92 79.76M214.63 79.76L215.02 78.59L215.8 77.8L216.59 77.41L217.76 77.41L218.55 77.8L219.33 78.59L219.72 79.76L219.72 80.55L219.33 81.72L218.55 82.51L217.76 82.9L216.59 82.9L215.8 82.51L215.02 81.72L214.63 80.55L214.63 79.76M222.47 77.41L222.47 82.9M226.78 82.9L226.78 78.98L226.39 77.8L225.6 77.41L224.43 77.41L223.64 77.8L222.47 78.98M173.47 88.57L173.47 96.8M176.21 93.66L176.6 92.49L177.39 91.7L178.17 91.31L179.35 91.31L180.13 91.7L180.92 92.49L181.31 93.66L181.31 94.45L180.92 95.62L180.13 96.41L179.35 96.8L178.17 96.8L177.39 96.41L176.6 95.62L176.21 94.45L176.21 93.66M189.93 91.31L188.36 96.8L186.8 91.31L185.23 96.8L183.66 91.31M204.04 96.8L198.95 96.8L198.95 88.57L204.04 88.57M198.95 92.49L202.08 92.49M206.4 91.31L206.4 99.54M206.4 95.62L207.18 96.41L207.96 96.8L209.14 96.8L209.92 96.41L210.71 95.62L211.1 94.45L211.1 93.66L210.71 92.49L209.92 91.7L209.14 91.31L207.96 91.31L207.18 91.7L206.4 92.49M213.84 91.31L213.84 96.8M218.16 96.8L218.16 92.88L217.76 91.7L216.98 91.31L215.8 91.31L215.02 91.7L213.84 92.88M218.16 92.88L219.33 91.7L220.12 91.31L221.29 91.31L222.08 91.7L222.47 92.88L222.47 96.8M229.92 95.62L229.13 96.41L228.35 96.8L227.17 96.8L226.39 96.41L225.6 95.62L225.21 94.45L225.21 93.66L225.6 92.49L226.39 91.7L227.17 91.31L228.35 91.31L229.13 91.7L229.92 92.49M229.92 91.31L229.92 96.8M232.66 91.31L236.97 96.8M232.66 96.8L236.97 91.31M116.26 109.94L115.48 109.16L114.3 108.77L112.74 108.77L111.56 109.16L110.78 109.94L110.78 110.73L111.17 111.51L111.56 111.9L112.34 112.3L114.7 113.08L115.48 113.47L115.87 113.86L116.26 114.65L116.26 115.82L115.48 116.61L114.3 117L112.74 117L111.56 116.61L110.78 115.82M124.1 108.77L119.01 108.77L119.01 117M119.01 112.69L122.14 112.69M126.06 112.69L129.59 112.69L130.77 112.3L131.16 111.9L131.55 111.12L131.55 110.34L131.16 109.55L130.77 109.16L129.59 108.77L126.06 108.77L126.06 117M128.81 112.69L131.55 117M137.04 117L137.04 108.77L135.86 109.94L135.08 110.34" stroke="#000" stroke-width="1.2" stroke-linecap="round"/>
</g>
</svg>
</body></html>
